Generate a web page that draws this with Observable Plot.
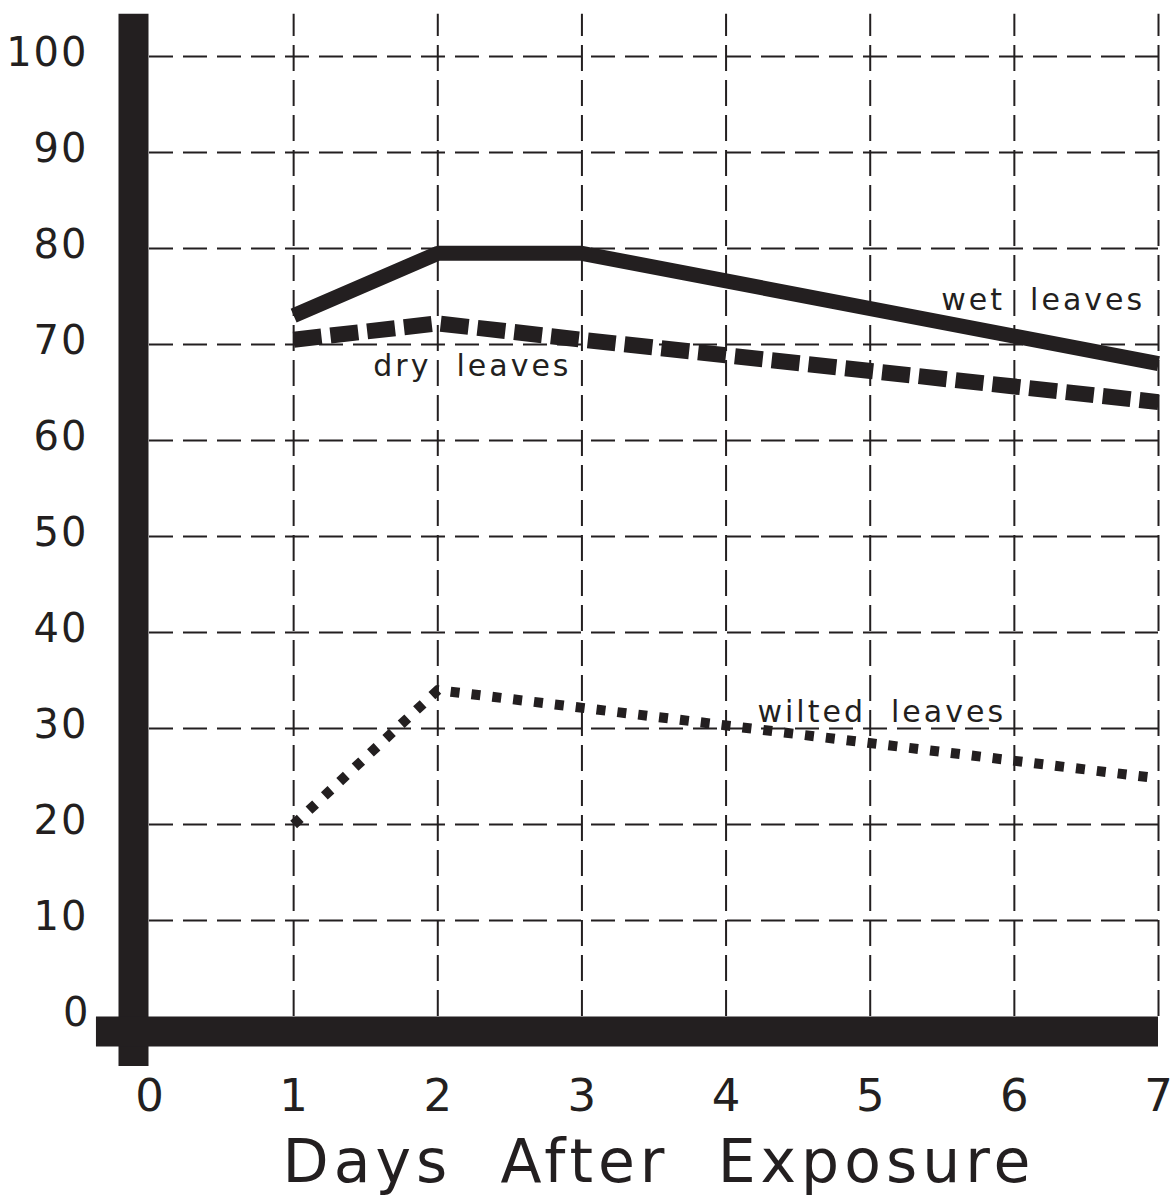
<!DOCTYPE html>
<html>
<head>
<meta charset="utf-8">
<script src="https://cdn.jsdelivr.net/npm/d3@7"></script>
<script src="https://cdn.jsdelivr.net/npm/@observablehq/plot@0.6"></script>
<style>
  html, body { margin: 0; padding: 0; background: #fff; }
  svg { display: block; }
</style>
</head>
<body>
<div id="chart"></div>
<script>
// ---- data ----
const days = [0, 1, 2, 3, 4, 5, 6, 7];
const yTicks = [0, 10, 20, 30, 40, 50, 60, 70, 80, 90, 100];
const wetDays = [1, 2, 3, 7];
const wetValues = [73, 79.5, 79.5, 68];
const dryDays = [1, 2, 3, 7];
const dryValues = [70.5, 72.2, 70.5, 64];
const wiltedDays = [1, 2, 7];
const wiltedValues = [20, 34, 24.8];
const seriesLabels = ["wet  leaves", "dry  leaves", "wilted  leaves"];
const labelDays = [6.2, 2.24, 5.08];
const labelValues = [74.6, 67.7, 31.7];
const xTitle = "Days  After  Exposure";

const ink = "#231f20";
const font = "DejaVu Sans, Verdana, sans-serif";

const wet = wetDays.map((d, i) => ({day: d, value: wetValues[i]}));
const dry = dryDays.map((d, i) => ({day: d, value: dryValues[i]}));
const wilted = wiltedDays.map((d, i) => ({day: d, value: wiltedValues[i]}));
const labels = seriesLabels.map((t, i) => ({text: t, day: labelDays[i], value: labelValues[i]}));

const chart = Plot.plot({
  width: 1171,
  height: 1197,
  marginLeft: 149,
  marginRight: 13,
  marginTop: 56,
  marginBottom: 181,
  style: {fontFamily: font, background: "#fff", overflow: "visible"},
  x: {domain: [0, 7], ticks: days},
  y: {domain: [0, 100], ticks: yTicks},
  marks: [
    // grid
    Plot.ruleY(yTicks.filter(d => d > 0), {x1: 0, x2: 7, stroke: ink, strokeWidth: 2, strokeDasharray: "24,10"}),
    Plot.ruleX(days.filter(d => d > 0), {y1: 0, y2: 104.4, stroke: ink, strokeWidth: 2, strokeDasharray: "26,9"}),
    // series
    Plot.line(wet, {x: "day", y: "value", stroke: ink, strokeWidth: 15, strokeLinejoin: "miter", strokeLinecap: "butt"}),
    Plot.line(dry, {x: "day", y: "value", stroke: ink, strokeWidth: 16, strokeDasharray: "28,9", strokeLinecap: "butt"}),
    Plot.line(wilted, {x: "day", y: "value", stroke: ink, strokeWidth: 10, strokeDasharray: "9,12", strokeLinecap: "butt"}),
    // series labels
    Plot.text(labels, {x: "day", y: "value", text: "text", fontSize: 30, fill: ink, textAnchor: "middle", lineAnchor: "middle"}),
    // heavy axis bars
    Plot.ruleX([0], {y1: -5.2, y2: 104.4, stroke: ink, strokeWidth: 30, dx: -16}),
    Plot.ruleY([0], {x1: -0.368, x2: 7, stroke: ink, strokeWidth: 30, dy: 15}),
    // tick labels
    Plot.axisY({ticks: yTicks, tickFormat: "d", tickSize: 0, tickPadding: 61, fontSize: 40, fill: ink, label: null, dy: -3}),
    Plot.axisX({ticks: days, tickFormat: "d", tickSize: 0, tickPadding: 63, fontSize: 45, fill: ink, label: null}),
    // x title
    Plot.text([xTitle], {frameAnchor: "bottom", dy: 146, dx: 5, fontSize: 60, fill: ink, lineAnchor: "middle"})
  ]
});
// letter spacing for the wide-set lettering
d3.select(chart).selectAll("text").each(function () {
  const t = this.textContent;
  let ls = null;
  if (t === xTitle) ls = "5px";
  else if (seriesLabels.includes(t)) ls = "3px";
  else if (/^\d+$/.test(t) && +t >= 10) ls = "2px";
  if (ls) this.style.letterSpacing = ls;
});
document.getElementById("chart").appendChild(chart);
</script>
</body>
</html>
